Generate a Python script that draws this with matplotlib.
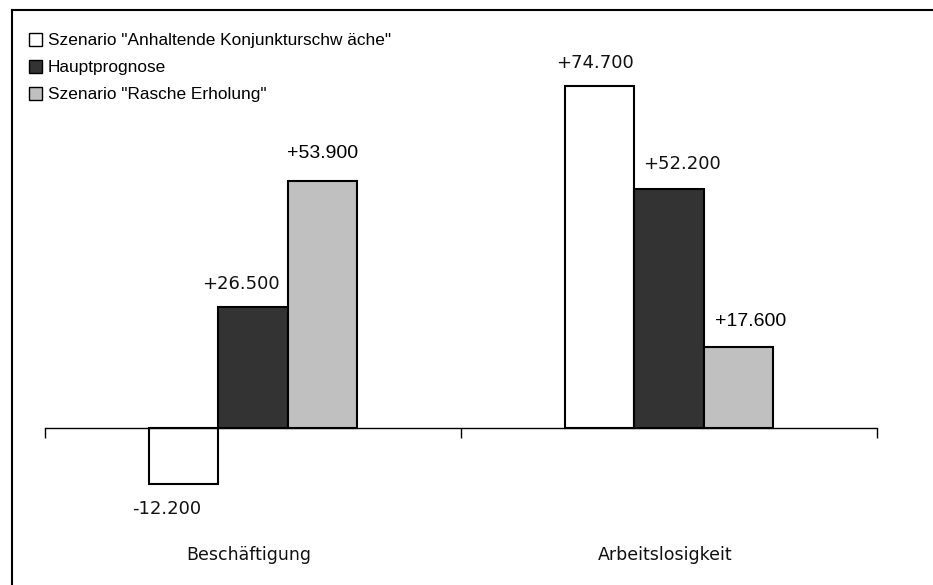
import numpy as np
import matplotlib
matplotlib.use('Agg')
import matplotlib.pyplot as plt
from matplotlib.lines import Line2D

# data
categories = ['Beschäftigung', 'Arbeitslosigkeit']
series = ['Szenario "Anhaltende Konjunkturschw äche"', 'Hauptprognose', 'Szenario "Rasche Erholung"']
values = [[-12200, 74700],
          [26500, 52200],
          [53900, 17600]]
labels = [['-12.200', '+74.700'],
          ['+26.500', '+52.200'],
          ['+53.900', '+17.600']]
colors = ['white', '#333333', '#c0c0c0']

# label placement (pixel offsets dx, gap) -- layout only
offsets = [[(-17, 16), (-5, 14)],
           [(-12, 14), (13, 16)],
           [(0, 19), (12, 17)]]
bold_labels = {'+53.900', '+17.600'}

fig = plt.figure(figsize=(9.33, 5.85), dpi=100)
W, H = 933.0, 585.0
ax = fig.add_axes([45 / W, 0, (877 - 45) / W, 1 - 10 / H])

x = np.arange(len(categories))
bw = 0.1665
for i in range(3):
    ax.bar(x + (i - 1) * bw, values[i], bw, color=colors[i], edgecolor='black',
           linewidth=1.5, label=series[i], zorder=3)

thin = dict(family='DejaVu Sans', fontsize=13, color='#111111')
bold = dict(family='Liberation Sans', fontsize=14, color='black')
pt = 0.72  # points per pixel at dpi 100
for i in range(3):
    for j in range(2):
        v = values[i][j]
        xc = x[j] + (i - 1) * bw
        dx, gap = offsets[i][j]
        style = bold if labels[i][j] in bold_labels else thin
        if v < 0:
            ax.annotate(labels[i][j], (xc, v), xytext=(dx * pt, -gap * pt),
                        textcoords='offset points', ha='center', va='top', **style)
        else:
            ax.annotate(labels[i][j], (xc, v), xytext=(dx * pt, gap * pt),
                        textcoords='offset points', ha='center', va='bottom', **style)

ax.set_xlim(-0.5, 1.5)
ax.set_ylim(-34300, 91300)
for s in ['top', 'right', 'left']:
    ax.spines[s].set_visible(False)
ax.spines['bottom'].set_position(('data', 0))
ax.spines['bottom'].set_linewidth(1.0)
ax.spines['bottom'].set_zorder(4)
ax.set_yticks([])
ax.set_xticks([-0.5, 0.5, 1.5])
ax.set_xticklabels([])
ax.tick_params(axis='x', direction='out', length=7, width=1.0)

for j, c in enumerate(categories):
    ax.text(x[j] - 0.01, -27700, c, ha='center', va='center', family='DejaVu Sans',
            fontsize=12.5, color='#111111')

# legend
handles, lbls = ax.get_legend_handles_labels()
leg = fig.legend(handles, lbls, loc='upper left', bbox_to_anchor=(29 / W, 1 - 33 / H),
                 frameon=False, prop={'family': 'Liberation Sans', 'size': 12.4},
                 handlelength=0.75, handleheight=0.75, handletextpad=0.35,
                 labelspacing=0.68, borderpad=0, borderaxespad=0)
for h in leg.legend_handles:
    h.set_linewidth(1.0)

# frame around the chart (left and top edges visible)
fig.add_artist(Line2D([12 / W, 12 / W], [0, 1 - 10 / H], color='black', linewidth=1.5))
fig.add_artist(Line2D([12 / W, 1], [1 - 10 / H, 1 - 10 / H], color='black', linewidth=1.5))

fig.savefig('out.png', dpi=100)
